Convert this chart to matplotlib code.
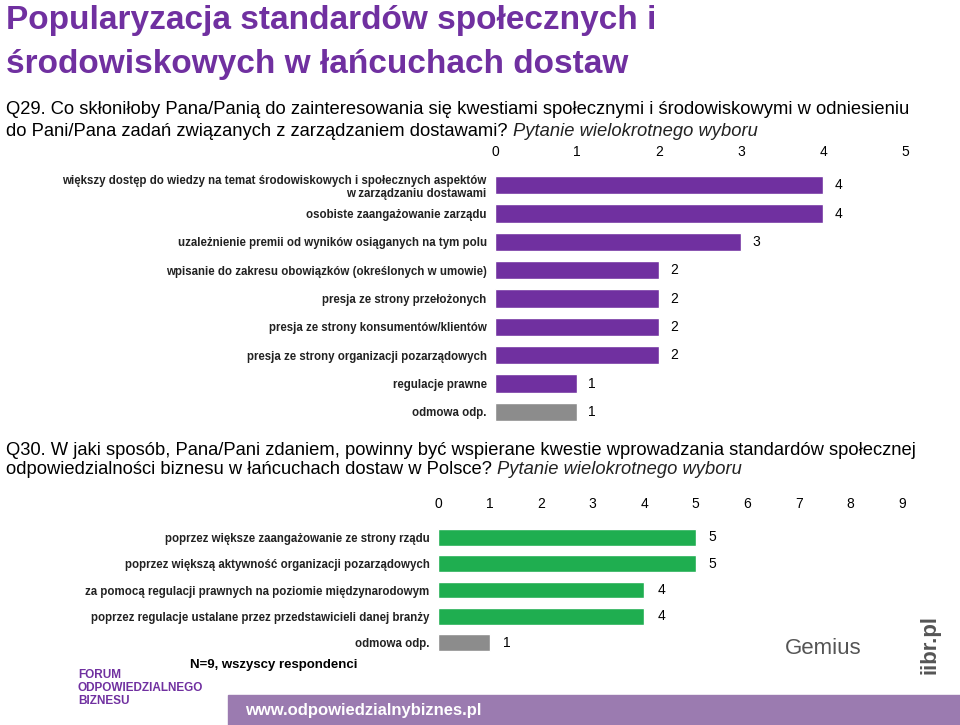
import matplotlib
matplotlib.use("Agg")
import matplotlib.pyplot as plt
from matplotlib.patches import Rectangle

plt.rcParams["font.family"] = "Liberation Sans"

q29_labels = ["większy dostęp do wiedzy na temat środowiskowych i społecznych aspektów\nw zarządzaniu dostawami",
              "osobiste zaangażowanie zarządu",
              "uzależnienie premii od wyników osiąganych na tym polu",
              "wpisanie do zakresu obowiązków (określonych w umowie)",
              "presja ze strony przełożonych",
              "presja ze strony konsumentów/klientów",
              "presja ze strony organizacji pozarządowych",
              "regulacje prawne",
              "odmowa odp."]
q29_values = [4, 4, 3, 2, 2, 2, 2, 1, 1]
q29_ticks = [0, 1, 2, 3, 4, 5]

q30_labels = ["poprzez większe zaangażowanie ze strony rządu",
              "poprzez większą aktywność organizacji pozarządowych",
              "za pomocą regulacji prawnych na poziomie międzynarodowym",
              "poprzez regulacje ustalane przez przedstawicieli danej branży",
              "odmowa odp."]
q30_values = [5, 5, 4, 4, 1]
q30_ticks = list(range(10))

W, H = 960, 725
fig = plt.figure(figsize=(9.6, 7.25), dpi=100)
fig.patch.set_facecolor("white")
purple = "#7030A0"

fig.text(6/W, 1-20/H, "Popularyzacja standardów społecznych i", color=purple, fontsize=24,
         fontweight="bold", va="center", ha="left")
fig.text(6/W, 1-65/H, "środowiskowych w łańcuchach dostaw", color=purple, fontsize=24,
         fontweight="bold", va="center", ha="left")

renderer = fig.canvas.get_renderer()
def line(x, y, normal, italic=None):
    t = fig.text(x/W, 1-y/H, normal, fontsize=13.2, va="center", ha="left")
    if italic:
        bb = t.get_window_extent(renderer)
        fig.text(bb.x1/W, 1-y/H, italic, fontsize=13.2, va="center", ha="left", style="italic", color="#222222")

line(6, 110, "Q29. Co skłoniłoby Pana/Panią do zainteresowania się kwestiami społecznymi i środowiskowymi w odniesieniu")
line(6, 132, "do Pani/Pana zadań związanych z zarządzaniem dostawami? ", "Pytanie wielokrotnego wyboru")
line(6, 451, "Q30. W jaki sposób, Pana/Pani zdaniem, powinny być wspierane kwestie wprowadzania standardów społecznej")
line(6, 470, "odpowiedzialności biznesu w łańcuchach dostaw w Polsce? ", "Pytanie wielokrotnego wyboru")

def chart(rect, labels, values, ticks, color, last_gray=True):
    ax = fig.add_axes(rect)
    n = len(values)
    cols = [color] * n
    if last_gray:
        cols[-1] = "#8C8C8C"
    y = list(range(n))
    ax.barh(y, values, height=0.64, color=cols, edgecolor="white", linewidth=1)
    ax.set_ylim(n - 0.5, -0.5)
    ax.set_xlim(ticks[0], ticks[-1])
    ax.xaxis.tick_top()
    ax.set_xticks(ticks)
    ax.tick_params(axis="x", length=0, labelsize=10, pad=9)
    ax.set_yticks(y)
    ax.set_yticklabels(labels, fontsize=8.3, fontweight="bold", color="#222222")
    ax.tick_params(axis="y", length=0, pad=6)
    for s in ax.spines.values():
        s.set_visible(False)
    for yi, v in zip(y, values):
        ax.text(v + 0.14 * (ticks[-1] / 5), yi, str(v), va="center", ha="left", fontsize=10)
    return ax

chart([495/W, 1-426/H, 410/W, 255/H], q29_labels, q29_values, q29_ticks, purple)
chart([438/W, 1-656/H, 464/W, 132/H], q30_labels, q30_values, q30_ticks, "#1FAE50")

fig.text(190/W, 1-665/H, "N=9, wszyscy respondenci", fontsize=9.5, fontweight="bold", va="center")
fig.patches.append(Rectangle((228/W, 0), 1-228/W, 30/H, transform=fig.transFigure, color="#9B7BB0"))
fig.text(245/W, 15/H, "www.odpowiedzialnybiznes.pl", color="white", fontsize=12, fontweight="bold", va="center")
fig.text(78/W, 1-688/H, "FORUM\nODPOWIEDZIALNEGO\nBIZNESU", color=purple, fontsize=8.5, fontweight="bold",
         va="center", linespacing=1.1)
fig.text(785/W, 1-648/H, "Gemius", color="#555555", fontsize=16, va="center")
fig.text(930/W, 1-645/H, "iibr.pl", color="#555555", fontsize=16, va="center", ha="center",
         rotation=90, fontweight="bold")

fig.savefig("out.png", dpi=100)
